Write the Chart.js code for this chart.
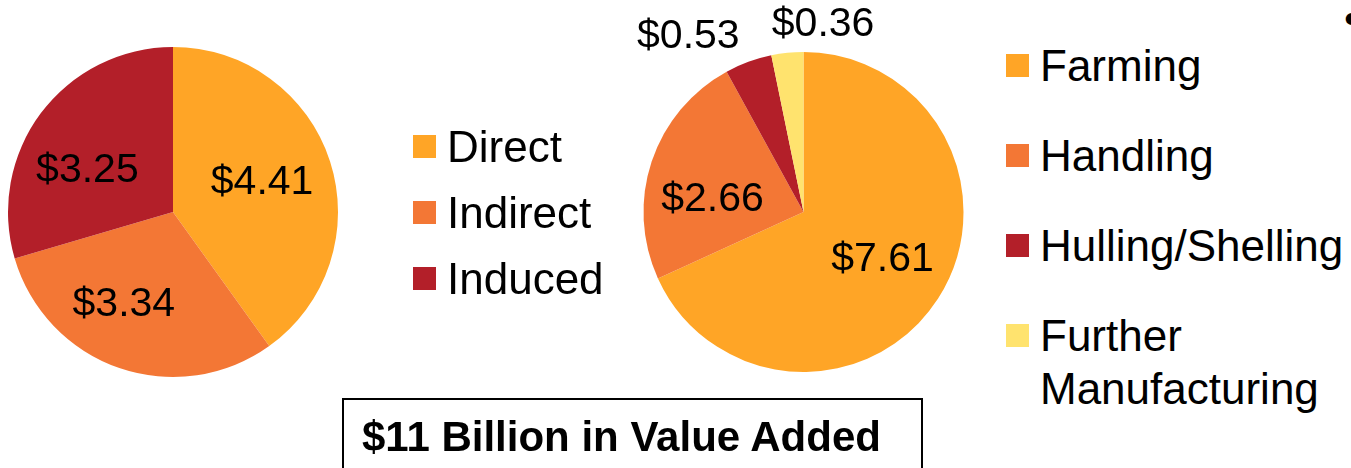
<!DOCTYPE html>
<html>
<head>
<meta charset="utf-8">
<script src="https://cdn.jsdelivr.net/npm/chart.js@4.4.1/dist/chart.umd.min.js"></script>
<style>
  html, body { margin: 0; padding: 0; background: #fff; }
  body { width: 1351px; height: 468px; overflow: hidden; position: relative;
         font-family: "Liberation Sans", Arial, sans-serif; color: #000; }
  canvas { position: absolute; top: 0; }
  .leg-box { position: absolute; width: 23px; height: 23px; }
  .leg-text { position: absolute; font-size: 44px; line-height: 53px; white-space: nowrap; }
  #total { position: absolute; left: 342px; top: 398px; width: 577px; height: 100px;
           border: 2px solid #000; box-sizing: content-box; }
  #total span { position: absolute; left: 18px; top: 13px; font-size: 42px; font-weight: bold;
                line-height: 48px; white-space: nowrap; }
  #bullet { position: absolute; left: 1344px; top: -8px; font-size: 44px; line-height: 53px; }
</style>
</head>
<body>
<canvas id="chart-impacto" width="350" height="420" style="left:0px"></canvas>
<canvas id="chart-sector" width="400" height="420" style="left:600px"></canvas>
<div id="leyenda-impacto"></div>
<div id="leyenda-sector"></div>
<div id="total"><span>$11 Billion in Value Added</span></div>
<div id="bullet">•</div>

<script>
// Datos (miles de millones de $)
const impactoLabels = ['Direct', 'Indirect', 'Induced'];
const impactoValues = [4.41, 3.34, 3.25];
const impactoColors = ['#FFA526', '#F37735', '#B31F29'];

const sectorLabels = ['Farming', 'Handling', 'Hulling/Shelling', 'Further Manufacturing'];
const sectorValues = [7.61, 2.66, 0.53, 0.36];
const sectorColors = ['#FFA526', '#F37735', '#B31F29', '#FFE36E'];

// etiquetas de valor sobre cada sector
const valueLabels = {
  id: 'valueLabels',
  afterDatasetsDraw(chart, args, opts) {
    const ctx = chart.ctx;
    const meta = chart.getDatasetMeta(0);
    const values = chart.data.datasets[0].data;
    ctx.save();
    ctx.font = '41px "Liberation Sans", Arial, sans-serif';
    ctx.fillStyle = '#000';
    ctx.textAlign = 'center';
    ctx.textBaseline = 'alphabetic';
    meta.data.forEach((arc, i) => {
      const p = arc.getProps(['x', 'y', 'startAngle', 'endAngle', 'outerRadius'], true);
      const mid = (p.startAngle + p.endAngle) / 2;
      const f = opts.radius[i];
      const n = opts.nudge[i] || [0, 0];
      const x = p.x + Math.cos(mid) * p.outerRadius * f + n[0];
      const y = p.y + Math.sin(mid) * p.outerRadius * f + n[1];
      ctx.fillText('$' + values[i].toFixed(2), x, y + 41 * 0.358);
    });
    ctx.restore();
  }
};

function pieConfig(labels, values, colors, padding, labelOpts) {
  return {
    type: 'pie',
    data: {
      labels: labels,
      datasets: [{
        data: values,
        backgroundColor: colors,
        borderWidth: 0
      }]
    },
    options: {
      responsive: false,
      maintainAspectRatio: false,
      animation: false,
      layout: { padding: padding },
      plugins: {
        legend: { display: false },
        tooltip: { enabled: false },
        valueLabels: labelOpts
      }
    },
    plugins: [valueLabels]
  };
}

new Chart(document.getElementById('chart-impacto').getContext('2d'),
  pieConfig(impactoLabels, impactoValues, impactoColors,
    { left: 8, top: 47, right: 12, bottom: 43 },
    { radius: [0.58, 0.58, 0.58], nudge: [[-2, -3], [-18, -1], [-9, 13]] }));

new Chart(document.getElementById('chart-sector').getContext('2d'),
  pieConfig(sectorLabels, sectorValues, sectorColors,
    { left: 43.5, top: 52, right: 36.5, bottom: 48 },
    { radius: [0.58, 0.58, 1.2, 1.2], nudge: [[1, -6], [-3, 14], [-49, 2], [39, 0]] }));

// leyendas en HTML
function buildLegend(id, labels, colors, boxX, textX, rows) {
  const cont = document.getElementById(id);
  labels.forEach((lab, i) => {
    const cy = rows[i];
    const box = document.createElement('div');
    box.className = 'leg-box';
    box.style.background = colors[i];
    box.style.left = boxX + 'px';
    box.style.top = (cy - 11) + 'px';
    cont.appendChild(box);
    const txt = document.createElement('div');
    txt.className = 'leg-text';
    txt.style.left = textX + 'px';
    txt.style.top = (cy - 26.5) + 'px';
    txt.innerHTML = lab.replace('Further ', 'Further<br>');
    cont.appendChild(txt);
  });
}
buildLegend('leyenda-impacto', impactoLabels, impactoColors, 413, 447, [146, 212, 278]);
buildLegend('leyenda-sector', sectorLabels, sectorColors, 1006, 1040, [65, 155, 245, 335]);
</script>
</body>
</html>
